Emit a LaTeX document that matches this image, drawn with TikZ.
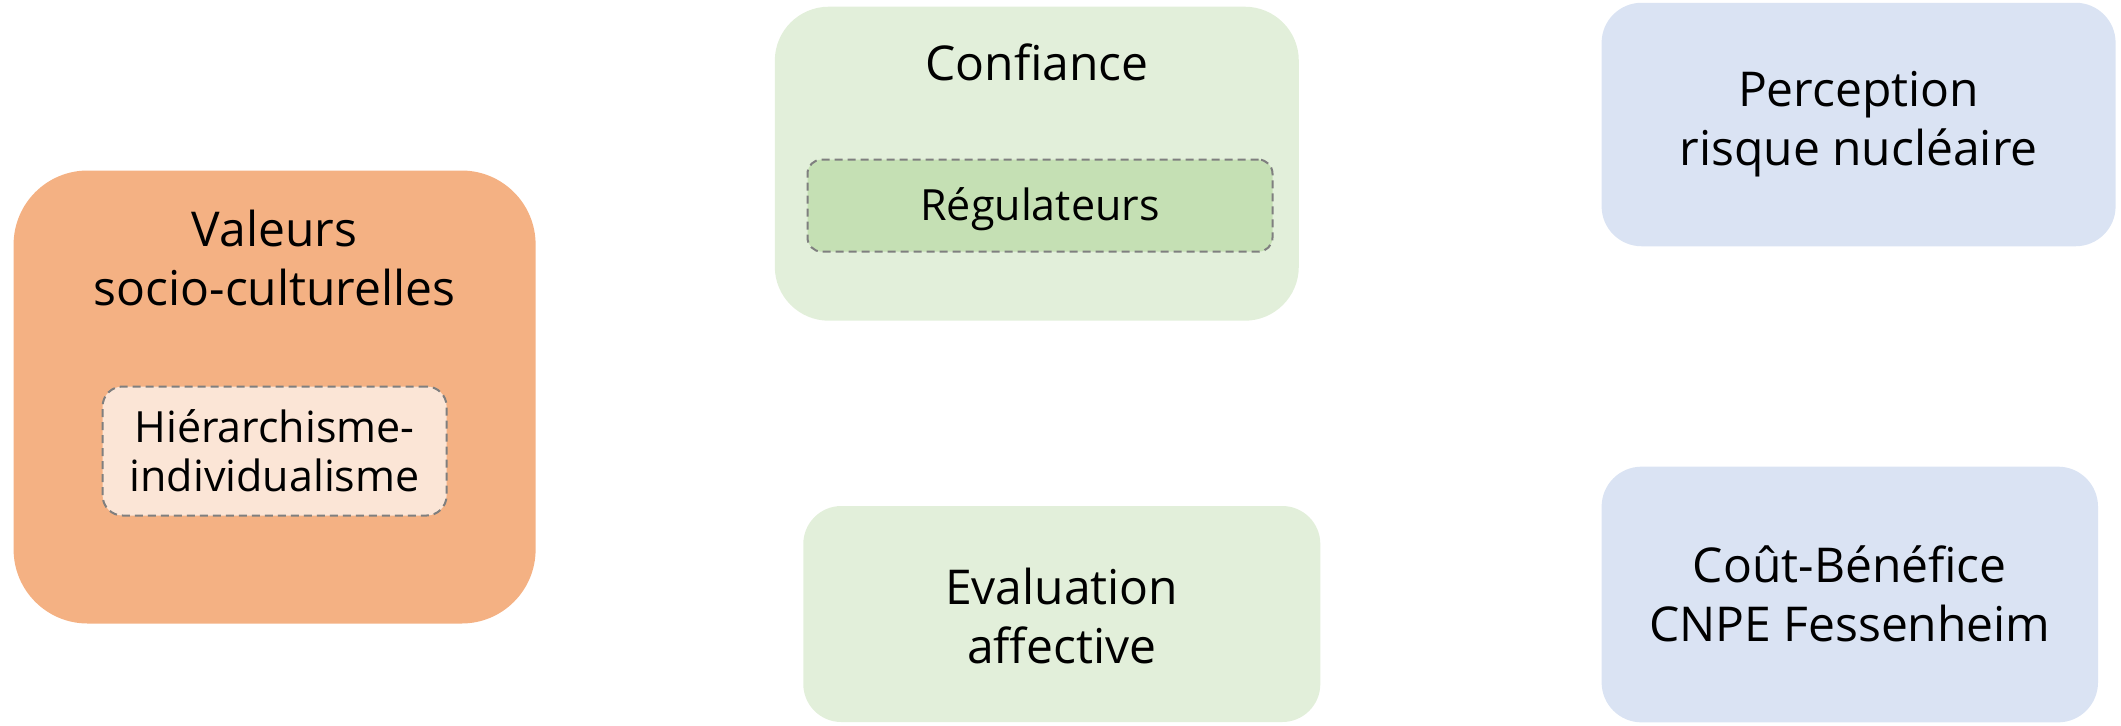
\documentclass[tikz,border=0pt]{standalone}
\usepackage{fontspec}
\setmainfont{Open Sans}
\usepackage{xcolor}
\usetikzlibrary{positioning}
\definecolor{orangebox}{HTML}{F4B183}
\definecolor{orangein}{HTML}{FBE5D6}
\definecolor{greenbox}{HTML}{E2EFDA}
\definecolor{greenin}{HTML}{C5E0B4}
\definecolor{bluebox}{HTML}{DAE3F3}
\definecolor{dashgray}{HTML}{7F7F7F}

\begin{document}
\begin{tikzpicture}[x=0.5pt,y=-0.5pt,
        box/.style={rectangle,draw=none,inner sep=0pt},
        inner box/.style={rectangle,draw=dashgray,line width=1pt,dash pattern=on 4pt off 2.5pt,inner sep=0pt},
        label text/.style={align=center,inner sep=0pt,font=\fontsize{24}{29.5}\selectfont},
        inner text/.style={align=center,inner sep=0pt,font=\fontsize{21.5}{24.5}\selectfont}]
  \useasboundingbox (0,0) rectangle (2121,725);
  % boxes
  \node[box,fill=orangebox,rounded corners=37pt,minimum width=261pt,minimum height=226.5pt] (valeurs) at (274.6,397) {};
  \node[inner box,fill=orangein,rounded corners=10pt,minimum width=172pt,minimum height=64.5pt] (hier) at (274.6,451) {};
  \node[box,fill=greenbox,rounded corners=27pt,minimum width=262pt,minimum height=157pt] (confiance) at (1036.8,163.7) {};
  \node[inner box,fill=greenin,rounded corners=7pt,minimum width=232.5pt,minimum height=46pt] (regul) at (1040,205.6) {};
  \node[box,fill=greenbox,rounded corners=19pt,minimum width=258.5pt,minimum height=108pt] (evaluation) at (1061.8,614) {};
  \node[box,fill=bluebox,rounded corners=20pt,minimum width=257pt,minimum height=121.75pt] (perception) at (1858.6,124.5) {};
  \node[box,fill=bluebox,rounded corners=20pt,minimum width=248.2pt,minimum height=127.85pt] (cout) at (1849.8,594.5) {};
  % texts
  \node[label text] (valeurs text) at (274.6,258) {Valeurs\\socio-culturelles};
  \node[inner text] (hier text) at (274.6,451) {Hiérarchisme-\\individualisme};
  \node[label text] (confiance text) at (1036.8,62) {Confiance};
  \node[inner text] (regul text) at (1040,209) {Régulateurs};
  \node[label text] (evaluation text) at (1061.8,616) {Evaluation\\affective};
  \node[label text] (perception text) at (1858.6,124) {Perception\\risque nucléaire};
  \node[label text] (cout text) at (1849.8,594) {Coût-Bénéfice\\CNPE Fessenheim};
\end{tikzpicture}
\end{document}
